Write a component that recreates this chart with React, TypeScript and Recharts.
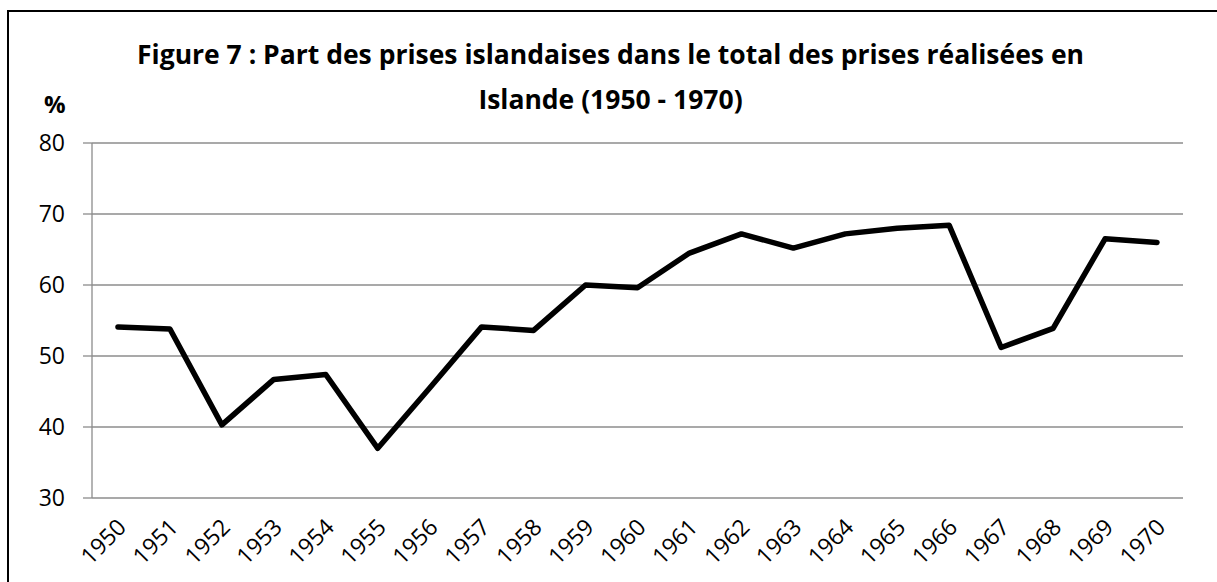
import React from "react"
import { CartesianGrid, Line, LineChart, XAxis, YAxis } from "recharts"

const years = [
    "1950", "1951", "1952", "1953", "1954", "1955", "1956", "1957", "1958", "1959", "1960",
    "1961", "1962", "1963", "1964", "1965", "1966", "1967", "1968", "1969", "1970",
]
const shares = [
    54.1, 53.8, 40.3, 46.7, 47.4, 37.0, 45.5, 54.1, 53.6, 60.0, 59.6,
    64.5, 67.2, 65.2, 67.2, 68.0, 68.4, 51.2, 53.9, 66.5, 66.0,
]
const yTicks = [30, 40, 50, 60, 70, 80]

const data = years.map((year, i) => ({ i, year, share: shares[i] }))
const centerTicks = years.map((_, i) => i)
const edgeTicks = [...years.map((_, i) => i - 0.5), years.length - 0.5]

const grey = "#8c8c8c"
const font = "'Open Sans', sans-serif"

const YearTick = ({ x, y, payload }: any) => (
    <g transform={`translate(${x + 4},${y + 17})`}>
        <text
            textAnchor="end"
            transform="rotate(-45)"
            fontSize={23}
            fontFamily={font}
            fill="#000"
            dy="0.35em"
        >
            {years[payload.value]}
        </text>
    </g>
)

export default function App() {
    return (
        <div style={{ position: "absolute", left: 0, top: 0, width: 1217, height: 582, background: "#fff", overflow: "hidden" }}>
            <div
                style={{
                    position: "absolute",
                    left: 7,
                    top: 10,
                    width: 1210,
                    height: 572,
                    borderLeft: "2px solid #000",
                    borderTop: "2px solid #000",
                    boxSizing: "border-box",
                }}
            />
            <div
                style={{
                    position: "absolute",
                    left: 0,
                    width: 1217,
                    top: 32,
                    textAlign: "center",
                    fontFamily: font,
                    fontWeight: 700,
                    fontSize: 26.5,
                    lineHeight: "45px",
                    paddingLeft: 4,
                    boxSizing: "border-box",
                    whiteSpace: "nowrap",
                }}
            >
                Figure 7 : Part des prises islandaises dans le total des prises réalisées en
                <br />
                Islande (1950 - 1970)
            </div>
            <div style={{ position: "absolute", left: 44, top: 87, fontFamily: font, fontWeight: 700, fontSize: 24 }}>%</div>
            <div style={{ position: "absolute", left: 0, top: 0 }}>
                <LineChart width={1217} height={582} data={data} margin={{ top: 143, right: 34, bottom: 24, left: 0 }}>
                    <CartesianGrid vertical={false} stroke={grey} strokeWidth={1.3} />
                    <XAxis
                        xAxisId="edges"
                        dataKey="i"
                        type="number"
                        domain={[-0.5, years.length - 0.5]}
                        ticks={edgeTicks}
                        interval={0}
                        tick={false}
                        tickSize={8}
                        height={0}
                        stroke={grey}
                        strokeWidth={1.3}
                    />
                    <XAxis
                        xAxisId="labels"
                        dataKey="i"
                        type="number"
                        domain={[-0.5, years.length - 0.5]}
                        ticks={centerTicks}
                        interval={0}
                        tick={<YearTick />}
                        tickLine={false}
                        axisLine={false}
                        height={60}
                    />
                    <YAxis
                        width={92}
                        domain={[30, 80]}
                        ticks={yTicks}
                        interval={0}
                        tickSize={9}
                        tickMargin={18}
                        stroke={grey}
                        strokeWidth={1.3}
                        tick={{ fill: "#000", fontSize: 23, fontFamily: font }}
                    />
                    <Line
                        xAxisId="labels"
                        dataKey="share"
                        stroke="#000"
                        strokeWidth={5.5}
                        strokeLinejoin="round"
                        strokeLinecap="round"
                        dot={false}
                        activeDot={false}
                        isAnimationActive={false}
                    />
                </LineChart>
            </div>
        </div>
    )
}
